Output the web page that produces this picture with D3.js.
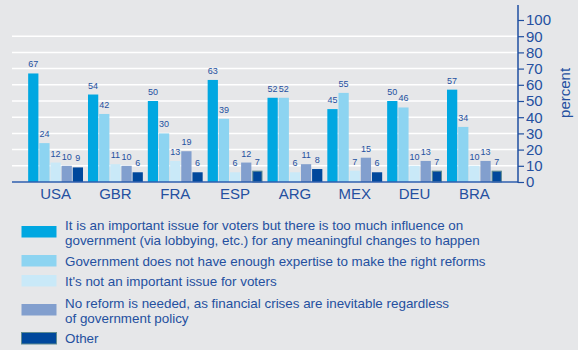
<!DOCTYPE html>
<html>
<head>
<meta charset="utf-8">
<script src="https://cdn.jsdelivr.net/npm/d3@7"></script>
<style>
  html, body { margin: 0; padding: 0; background: #e6e7e9; }
  svg { display: block; font-family: "Liberation Sans", Arial, sans-serif; }
</style>
</head>
<body>
<svg id="chart" width="578" height="350"></svg>
<script>
// Countries along the x axis
const countries = ["USA", "GBR", "FRA", "ESP", "ARG", "MEX", "DEU", "BRA"];

// Survey answers (percent), one array per response
const tooMuchInfluence   = [67, 54, 50, 63, 52, 45, 50, 57];
const notEnoughExpertise = [24, 42, 30, 39, 52, 55, 46, 34];
const notImportantIssue  = [12, 11, 13,  6,  6,  7, 10, 10];
const noReformNeeded     = [10, 10, 19, 12, 11, 15, 13, 13];
const otherAnswer        = [ 9,  6,  6,  7,  8,  6,  7,  7];

const seriesNames = [
  "It is an important issue for voters but there is too much influence on\ngovernment (via lobbying, etc.) for any meaningful changes to happen",
  "Government does not have enough expertise to make the right reforms",
  "It's not an important issue for voters",
  "No reform is needed, as financial crises are inevitable regardless\nof government policy",
  "Other"
];
const seriesValues = [tooMuchInfluence, notEnoughExpertise, notImportantIssue, noReformNeeded, otherAnswer];
const seriesColors = ["#00a7e1", "#8dd4f1", "#c9e9f8", "#829fce", "#00489c"];

// Axis ticks
const yTicks = [0, 10, 20, 30, 40, 50, 60, 70, 80, 90, 100];
const gridTicks = [10, 20, 30, 40, 50, 60, 70, 80, 90];

// "Other" bars drawn with a thin frame
const framedOther = ["ESP", "DEU", "BRA"];

const svg = d3.select("#chart");
const textColor = "#2450a0";

const x0 = d3.scaleBand().domain(countries).range([12, 518]).paddingInner(5 / 60).paddingOuter(0.27);
const x1 = d3.scaleBand().domain(d3.range(seriesValues.length)).range([0, x0.bandwidth()]).paddingInner(0.08);
const y = d3.scaleLinear().domain([0, 100]).range([182, 20]);

// Grid lines
svg.append("g").selectAll("line").data(gridTicks).join("line")
  .attr("x1", 12).attr("x2", 518)
  .attr("y1", d => y(d)).attr("y2", d => y(d))
  .attr("stroke", "#ffffff").attr("stroke-width", 1.5);

// Bars
const groups = svg.append("g").selectAll("g").data(countries).join("g")
  .attr("transform", c => `translate(${x0(c)},0)`);

groups.each(function (c, ci) {
  const g = d3.select(this);
  seriesValues.forEach((vals, si) => {
    const v = vals[ci];
    const framed = si === 4 && framedOther.includes(c);
    g.append("rect")
      .attr("x", x1(si) + (framed ? 0.5 : 0))
      .attr("y", y(v) + (framed ? 0.5 : 0))
      .attr("width", x1.bandwidth() - (framed ? 1 : 0))
      .attr("height", y(0) - y(v) - (framed ? 0.5 : 0))
      .attr("fill", seriesColors[si])
      .attr("stroke", framed ? "#5f8c91" : "none")
      .attr("stroke-width", framed ? 1 : 0);
    g.append("text")
      .attr("x", x1(si) + x1.bandwidth() / 2)
      .attr("y", y(v) - 6)
      .attr("text-anchor", "middle")
      .attr("font-size", 9)
      .attr("fill", textColor)
      .text(v);
  });
});

// Baseline
svg.append("line")
  .attr("x1", 12).attr("x2", 518)
  .attr("y1", y(0)).attr("y2", y(0))
  .attr("stroke", "#2f5fae").attr("stroke-width", 1.5);

// Country labels
svg.append("g").selectAll("text").data(countries).join("text")
  .attr("x", c => x0(c) + x0.bandwidth() / 2)
  .attr("y", 199)
  .attr("text-anchor", "middle")
  .attr("font-size", 15)
  .attr("fill", textColor)
  .text(c => c);

// Right-hand y axis
const yAxis = d3.axisRight(y).tickValues(yTicks).tickSize(6).tickPadding(2);
const ag = svg.append("g").attr("transform", "translate(518,0)").call(yAxis);
ag.select(".domain").remove();
ag.append("line").attr("x1", 0).attr("x2", 0).attr("y1", 5).attr("y2", y(0) + 0.75)
  .attr("stroke", "#1f4fa0").attr("stroke-width", 1.5);
ag.selectAll(".tick line").attr("stroke", "#1f4fa0").attr("stroke-width", 1.2);
ag.selectAll(".tick text").attr("fill", textColor).attr("font-size", 15)
  .attr("font-family", "'Liberation Sans', Arial, sans-serif");

svg.append("text")
  .attr("transform", `translate(570,${y(55)}) rotate(-90)`)
  .attr("text-anchor", "middle")
  .attr("font-size", 15)
  .attr("fill", textColor)
  .text("percent");

// Legend
const legendRows = [
  { y: 225, sw: 232 },
  { y: 261, sw: 261 },
  { y: 281, sw: 281 },
  { y: 303, sw: 310 },
  { y: 338, sw: 338.5 }
];
const lg = svg.append("g");
legendRows.forEach((row, i) => {
  const framed = i === 4;
  lg.append("rect")
    .attr("x", 21.5).attr("y", row.sw - 6)
    .attr("width", 35).attr("height", 11.5)
    .attr("fill", seriesColors[i])
    .attr("stroke", framed ? "#5f8c91" : "none")
    .attr("stroke-width", framed ? 1 : 0);
  const lines = seriesNames[i].split("\n");
  const t = lg.append("text")
    .attr("x", 65)
    .attr("y", row.y + 5)
    .attr("font-size", 13.4)
    .attr("fill", textColor);
  lines.forEach((ln, li) => {
    t.append("tspan").attr("x", 65).attr("dy", li === 0 ? 0 : 15).text(ln);
  });
});
</script>
</body>
</html>
